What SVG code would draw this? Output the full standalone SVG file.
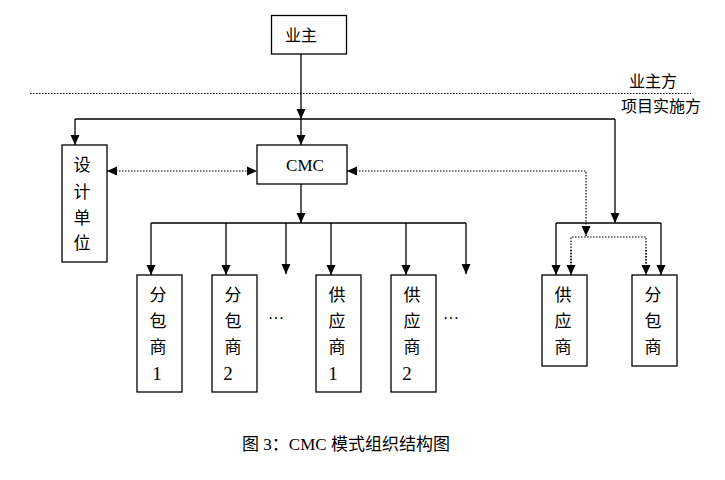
<svg xmlns="http://www.w3.org/2000/svg" width="725" height="480" viewBox="0 0 725 480">
<style>
.box{fill:#fff;stroke:#000;stroke-width:1.3}
.ln{fill:none;stroke:#000;stroke-width:1.3}
.dt{fill:none;stroke:#000;stroke-width:1.2;stroke-dasharray:1.5 1.5}
.sep{fill:none;stroke:#000;stroke-width:1.2;stroke-dasharray:1.5 1.5}
text{font-family:"Liberation Serif","Noto Sans CJK SC",serif;font-size:16px;fill:#000;text-anchor:middle;dominant-baseline:central}
.ch{font-size:17px}
.dg{font-size:19px}
</style>
<defs>
<marker id="ah" markerUnits="userSpaceOnUse" markerWidth="12" markerHeight="12" viewBox="0 0 12 12" refX="11" refY="6" orient="auto">
<path d="M1,1.5 L11,6 L1,10.5 Z" fill="#000"/>
</marker>
<marker id="as" markerUnits="userSpaceOnUse" markerWidth="12" markerHeight="12" viewBox="0 0 12 12" refX="1" refY="6" orient="auto">
<path d="M11,1.5 L1,6 L11,10.5 Z" fill="#000"/>
</marker>
</defs>
<rect width="725" height="480" fill="#fff"/>

<g id="connectors">
<line class="sep" x1="30" y1="93.5" x2="691" y2="93.5"/>
<line class="ln" x1="301" y1="54" x2="301" y2="119" marker-end="url(#ah)"/>
<line class="ln" x1="75" y1="119" x2="615" y2="119"/>
<line class="ln" x1="301" y1="119" x2="301" y2="145" marker-end="url(#ah)"/>
<line class="ln" x1="75" y1="119" x2="75" y2="145" marker-end="url(#ah)"/>
<line class="ln" x1="615" y1="119" x2="615" y2="223" marker-end="url(#ah)"/>
<line class="ln" x1="556" y1="223" x2="661" y2="223"/>
<line class="ln" x1="556" y1="223" x2="556" y2="275" marker-end="url(#ah)"/>
<line class="ln" x1="661" y1="223" x2="661" y2="275" marker-end="url(#ah)"/>
<line class="dt" x1="107" y1="171" x2="257" y2="171" marker-start="url(#as)" marker-end="url(#ah)"/>
<path class="dt" d="M347,171 H586 V236" marker-start="url(#as)" marker-end="url(#ah)"/>
<path class="dt" d="M571,275 V237 H646 V275"/>
<line class="dt" x1="571" y1="250" x2="571" y2="275" marker-end="url(#ah)"/>
<line class="dt" x1="646" y1="250" x2="646" y2="275" marker-end="url(#ah)"/>
<line class="ln" x1="301" y1="184" x2="301" y2="223" marker-end="url(#ah)"/>
<line class="ln" x1="151" y1="223" x2="466" y2="223"/>
<line class="ln" x1="151" y1="223" x2="151" y2="275" marker-end="url(#ah)"/>
<line class="ln" x1="226" y1="223" x2="226" y2="275" marker-end="url(#ah)"/>
<line class="ln" x1="286" y1="223" x2="286" y2="274" marker-end="url(#ah)"/>
<line class="ln" x1="331" y1="223" x2="331" y2="275" marker-end="url(#ah)"/>
<line class="ln" x1="406" y1="223" x2="406" y2="275" marker-end="url(#ah)"/>
<line class="ln" x1="466" y1="223" x2="466" y2="274" marker-end="url(#ah)"/>
</g>

<g id="owner">
<rect class="box" x="271.5" y="15.5" width="75" height="38.5"/>
<text x="301" y="35">业主</text>
</g>
<g id="side-labels">
<text x="653" y="81">业主方</text>
<text x="661" y="106">项目实施方</text>
</g>
<g id="design">
<rect class="box" x="62" y="145" width="45" height="117"/>
<text class="ch" x="82" y="165">设</text>
<text class="ch" x="82" y="192">计</text>
<text class="ch" x="82" y="218">单</text>
<text class="ch" x="82" y="243">位</text>
</g>
<g id="cmc">
<rect class="box" x="257" y="145" width="90" height="39"/>
<text x="305" y="165" style="font-size:17px">CMC</text>
</g>
<g id="sub1">
<rect class="box" x="137" y="275" width="45" height="117"/>
<text class="ch" x="158" y="295">分</text>
<text class="ch" x="158" y="321">包</text>
<text class="ch" x="158" y="347">商</text>
<text class="dg" x="157" y="373">1</text>
</g>
<g id="sub2">
<rect class="box" x="212" y="275" width="45" height="117"/>
<text class="ch" x="233" y="295">分</text>
<text class="ch" x="233" y="321">包</text>
<text class="ch" x="233" y="347">商</text>
<text class="dg" x="228" y="373">2</text>
</g>
<g id="dots1"><text x="276" y="318">···</text></g>
<g id="sup1">
<rect class="box" x="316" y="275" width="45" height="117"/>
<text class="ch" x="337" y="295">供</text>
<text class="ch" x="337" y="321">应</text>
<text class="ch" x="337" y="347">商</text>
<text class="dg" x="333" y="373">1</text>
</g>
<g id="sup2">
<rect class="box" x="391" y="275" width="45" height="117"/>
<text class="ch" x="412" y="295">供</text>
<text class="ch" x="412" y="321">应</text>
<text class="ch" x="412" y="347">商</text>
<text class="dg" x="407" y="373">2</text>
</g>
<g id="dots2"><text x="451" y="318">···</text></g>
<g id="supplier">
<rect class="box" x="542" y="275" width="45" height="91"/>
<text class="ch" x="563" y="295">供</text>
<text class="ch" x="563" y="321">应</text>
<text class="ch" x="563" y="347">商</text>
</g>
<g id="subcontractor">
<rect class="box" x="632" y="275" width="45" height="91"/>
<text class="ch" x="653" y="295">分</text>
<text class="ch" x="653" y="321">包</text>
<text class="ch" x="653" y="347">商</text>
</g>
<g id="caption">
<text x="346" y="444" style="font-size:17px">图 3：CMC 模式组织结构图</text>
</g>
</svg>
